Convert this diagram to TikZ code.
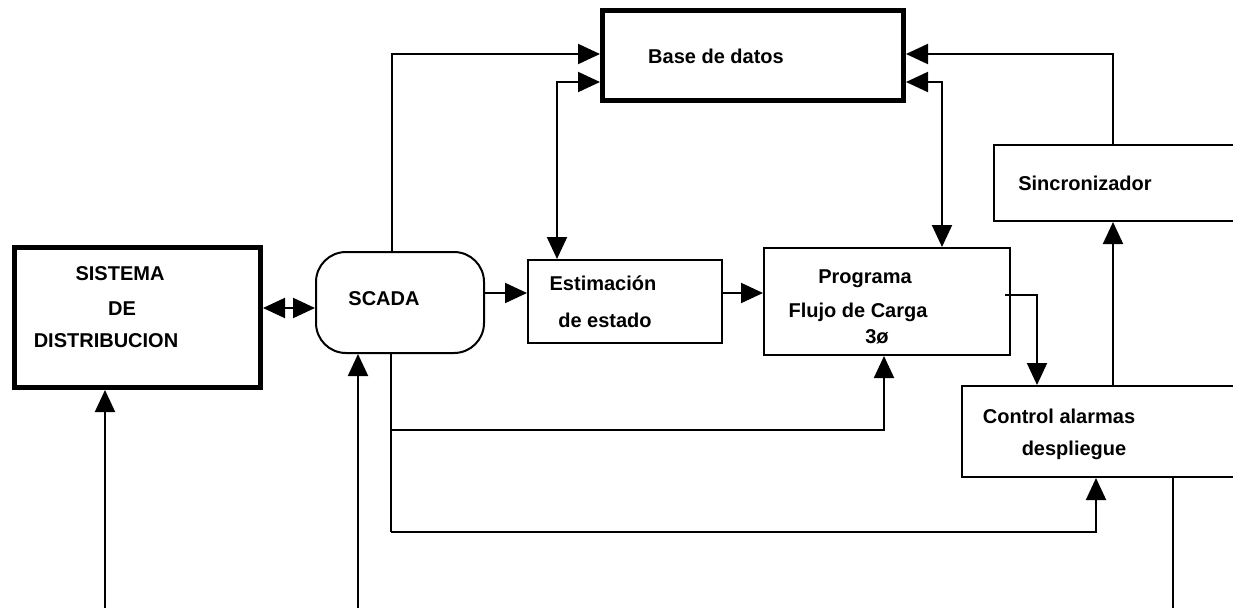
\documentclass[tikz,border=0pt]{standalone}
\usepackage{fontspec}
\setmainfont{Liberation Sans}
\usetikzlibrary{arrows.meta}
\tikzset{
  box/.style={draw, line width=2pt, inner sep=0pt, anchor=north west},
  heavybox/.style={box, line width=5pt},
  lbl/.style={inner sep=0pt, anchor=base, font=\fontsize{20}{24}\selectfont\bfseries},
  wire/.style={line width=2pt},
  tip/.style={wire, -{Triangle[length=22pt,width=20pt]}},
  tips/.style={wire, {Triangle[length=22pt,width=20pt]}-{Triangle[length=22pt,width=20pt]}},
}
\begin{document}
\begin{tikzpicture}[x=1pt,y=-1pt]
\useasboundingbox (0,0) rectangle (1233,608);
\clip (0,0) rectangle (1233,608);

% blocks
\node[heavybox, minimum width=246pt, minimum height=140pt] (sis) at (12,245) {};
\node[box, rounded corners=30pt, minimum width=168pt, minimum height=101pt] (scada) at (315,251) {};
\node[box, minimum width=194pt, minimum height=83pt] (est) at (527,259) {};
\node[box, minimum width=246pt, minimum height=107pt] (prog) at (763,247) {};
\node[heavybox, minimum width=301pt, minimum height=90pt] (base) at (600,8) {};
\node[box, minimum width=260pt, minimum height=76pt] (sinc) at (993,144) {};
\node[box, minimum width=290pt, minimum height=91pt] (ctrl) at (961,385) {};

% labels
\node[lbl] (t1) at (120,280) {SISTEMA};
\node[lbl] (t2) at (122,315) {DE};
\node[lbl] (t3) at (106,347) {DISTRIBUCION};
\node[lbl] (t4) at (384,305) {SCADA};
\node[lbl] (t5) at (603,290) {Estimación};
\node[lbl] (t6) at (605,327) {de estado};
\node[lbl] (t7) at (716,63) {Base de datos};
\node[lbl] (t8) at (1085,190) {Sincronizador};
\node[lbl] (t9) at (865,283) {Programa};
\node[lbl] (t10) at (858,317) {Flujo de Carga};
\node[lbl] (t11) at (877,343) {3ø};
\node[lbl] (t12) at (1059,423) {Control alarmas};
\node[lbl] (t13) at (1074,455) {despliegue};

% free ends and bends
\coordinate (b1) at (392,54);
\coordinate (b2) at (557,82);
\coordinate (b3) at (1113,54);
\coordinate (b4) at (942,82);
\coordinate (b5) at (1037,295);
\coordinate (p0) at (1005,295);
\coordinate (low1) at (391,430);
\coordinate (low2) at (391,532);
\coordinate (f1) at (105,608);
\coordinate (f2) at (358,608);
\coordinate (f3) at (1173,608);

% links to the database
\draw[tip] (b1 |- scada.north) -- (b1) -- (b1 -| base.west);
\draw[tips] (b2 |- est.north) -- (b2) -- (b2 -| base.west);
\draw[tip] (b3 |- sinc.north) -- (b3) -- (b3 -| base.east);
\draw[tips] (b4 |- prog.north) -- (b4) -- (b4 -| base.east);

% main chain
\draw[tips] (sis.east |- 0,308) -- (scada.west |- 0,308);
\draw[tip] (scada.east |- 0,293) -- (est.west |- 0,293);
\draw[tip] (est.east |- 0,293) -- (prog.west |- 0,293);
\draw[tip] (p0) -- (b5) -- (b5 |- ctrl.north);
\draw[tip] (b3 |- ctrl.north) -- (b3 |- sinc.south);

% feedback from SCADA
\draw[wire] (low1 |- scada.south) -- (low2);
\draw[tip] (low1) -| (884,0 |- prog.south);
\draw[tip] (low2) -| (1096,0 |- ctrl.south);

% external inputs and output
\draw[tip] (f1) -- (f1 |- sis.south);
\draw[tip] (f2) -- (f2 |- scada.south);
\draw[wire] (f3 |- ctrl.south) -- (f3);
\end{tikzpicture}
\end{document}
